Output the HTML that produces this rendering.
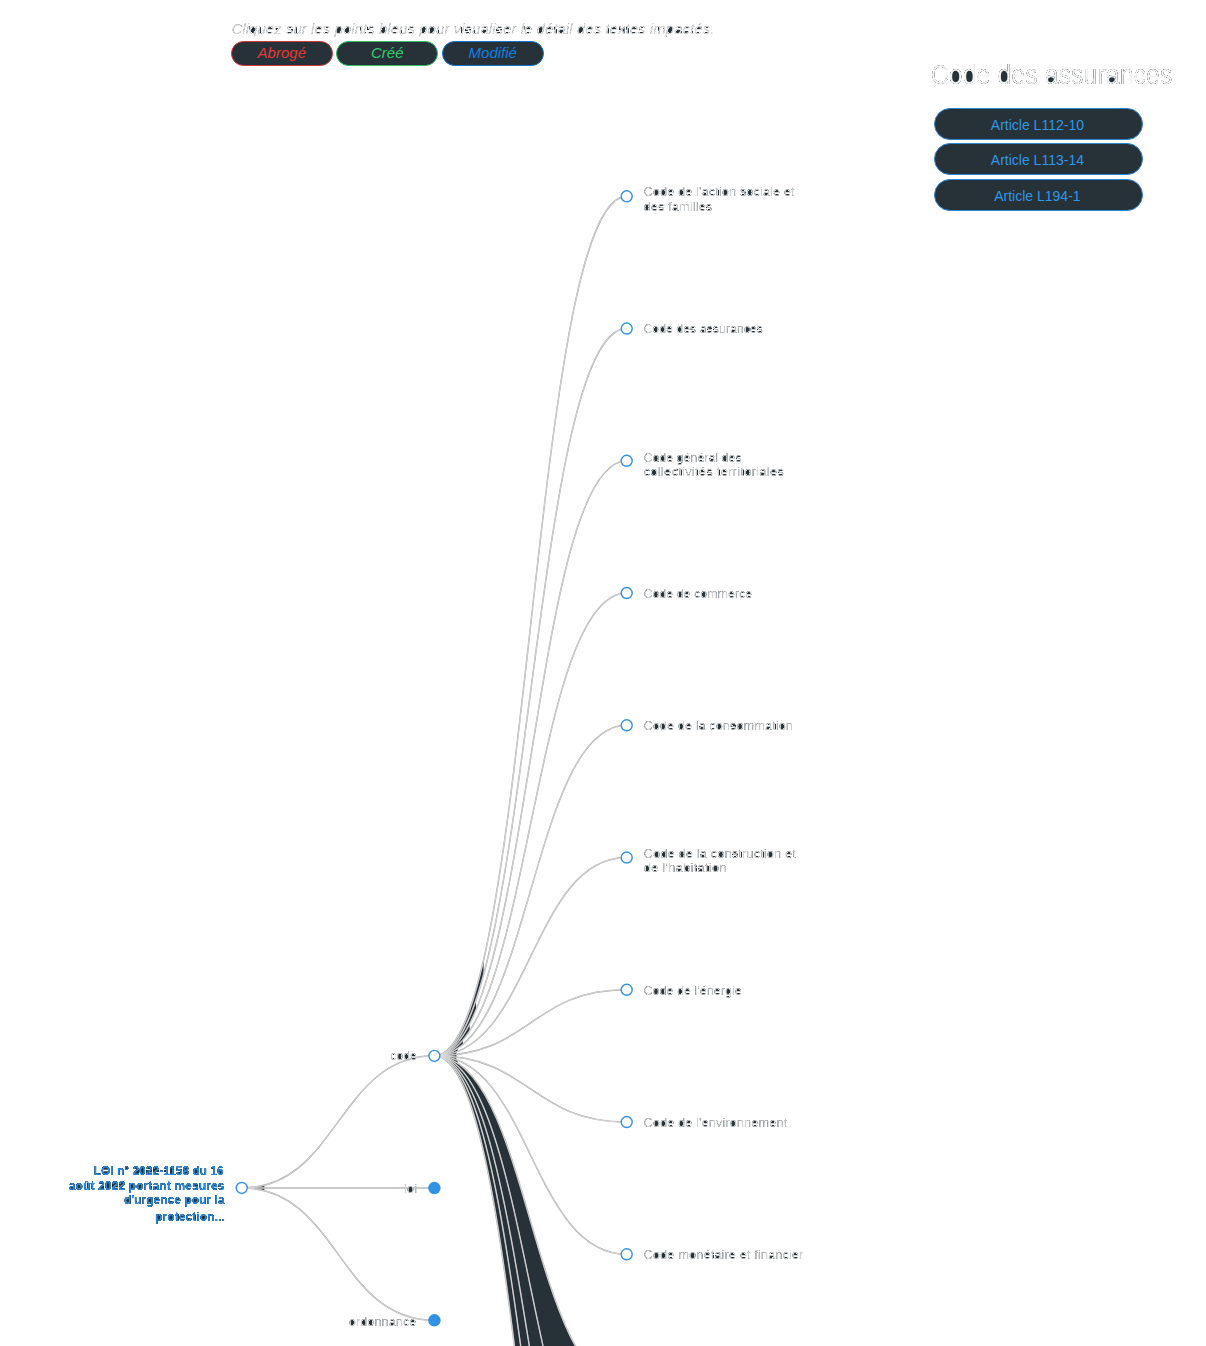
<!DOCTYPE html>
<html lang="fr">
<head>
<meta charset="utf-8">
<title>LOI n° 2022-1158</title>
<style>
html,body{margin:0;padding:0;background:#fff;}
body{width:1206px;height:1346px;position:relative;overflow:hidden;font-family:"Liberation Sans",sans-serif;}
svg.tree{position:absolute;left:0;top:0;}
svg text{font-family:"Liberation Sans",sans-serif;}
.lbl text{font-size:13px;fill:#d2d2d2;}
.rootlbl text{font-size:12px;font-weight:bold;fill:#2c8be0;}
.intro{position:absolute;left:0;top:0;}
.legend{position:absolute;left:231px;top:41px;height:25px;white-space:nowrap;font-size:0;}
.legend span{display:inline-block;box-sizing:border-box;width:101.6px;height:24.6px;border-radius:13px;background:#263238;border:1.3px solid;margin-right:3.9px;font-size:15px;font-style:italic;line-height:21px;text-align:center;vertical-align:top;}
.legend .a{color:#e5393a;border-color:#d9363b;}
.legend .c{color:#2fcf6c;border-color:#2dbe66;}
.legend .m{color:#0d7fe6;border-color:#0d74d8;}
.arts{position:absolute;left:934px;top:108.2px;width:208.8px;}
.arts div{box-sizing:border-box;height:32px;margin-bottom:3.3px;border-radius:16px;background:#263238;border:1.2px solid #2a86d6;color:#3296e6;font-size:14px;line-height:29.5px;padding:2px 2px 0 0;text-align:center;}
</style>
</head>
<body>
<svg class="tree" width="1206" height="1346" viewBox="0 0 1206 1346">
<defs>
<filter id="ff" x="-5%" y="-30%" width="110%" height="160%" color-interpolation-filters="sRGB">
  <feComponentTransfer in="SourceAlpha" result="m1"><feFuncA type="linear" slope="5" intercept="-2.5"/></feComponentTransfer>
  <feComponentTransfer in="SourceAlpha" result="m2"><feFuncA type="linear" slope="8" intercept="-2.4"/></feComponentTransfer>
  <feMorphology in="m2" operator="dilate" radius="2 0" result="hd"/>
  <feMorphology in="hd" operator="erode" radius="2 0" result="hc"/>
  <feMorphology in="m2" operator="dilate" radius="0 3" result="vd"/>
  <feMorphology in="vd" operator="erode" radius="0 3" result="vc"/>
  <feComposite in="hc" in2="vc" operator="in" result="hv"/>
  <feComposite in="hv" in2="m2" operator="out" result="ho"/>
  <feComposite in="ho" in2="m1" operator="over" result="mm"/>
  <feFlood flood-color="#263238" result="dk"/>
  <feComposite in="dk" in2="mm" operator="in" result="base"/>
  <feMerge><feMergeNode in="base"/><feMergeNode in="SourceGraphic"/></feMerge>
</filter>
<filter id="ff4" x="-5%" y="-30%" width="110%" height="160%" color-interpolation-filters="sRGB">
  <feComponentTransfer in="SourceAlpha" result="m1"><feFuncA type="linear" slope="5" intercept="-1.6"/></feComponentTransfer>
  <feComponentTransfer in="SourceAlpha" result="m2"><feFuncA type="linear" slope="8" intercept="-2.4"/></feComponentTransfer>
  <feMorphology in="m2" operator="dilate" radius="2 0" result="hd"/>
  <feMorphology in="hd" operator="erode" radius="2 0" result="hc"/>
  <feMorphology in="m2" operator="dilate" radius="0 3" result="vd"/>
  <feMorphology in="vd" operator="erode" radius="0 3" result="vc"/>
  <feComposite in="hc" in2="vc" operator="in" result="hv"/>
  <feComposite in="hv" in2="m2" operator="out" result="ho"/>
  <feComposite in="ho" in2="m1" operator="over" result="mm"/>
  <feFlood flood-color="#263238" result="dk"/>
  <feComposite in="dk" in2="mm" operator="in" result="base"/>
  <feMerge><feMergeNode in="base"/><feMergeNode in="SourceGraphic"/></feMerge>
</filter>
</defs>
<path d="M434.4,1055.85C530.55,1055.85 530.55,1386.5 626.7,1386.5L626.7,1915.48C530.55,1915.48 530.55,1055.85 434.4,1055.85Z" fill="#263238"/>
<g fill="#263238">
<path d="M434.4,1055.85L435.89,1055.78L437.36,1055.57L438.82,1055.23L440.26,1054.76L441.69,1054.15L443.1,1053.4L444.5,1052.53L445.89,1051.53L447.26,1050.4L448.61,1049.15L449.96,1047.77L451.28,1046.27L452.6,1044.65L453.9,1042.91L455.19,1041.05L456.46,1039.07L457.73,1036.97L458.98,1034.77L460.21,1032.45L461.44,1030.01L462.65,1027.47L463.85,1024.82L465.04,1022.06L466.21,1019.2L467.38,1016.23L468.53,1013.16L469.67,1009.99L470.8,1006.71L471.92,1003.34L473.03,999.88L474.13,996.31L475.21,992.66L476.29,988.91L477.36,985.07L478.41,981.13L479.46,977.11L480.5,973.01L481.53,968.82L482.54,964.54L483.55,960.18L483.55,974.9L482.54,978.59L481.53,982.21L480.5,985.75L479.46,989.23L478.41,992.63L477.36,995.96L476.29,999.21L475.21,1002.38L474.13,1005.47L473.03,1008.49L471.92,1011.42L470.8,1014.27L469.67,1017.04L468.53,1019.73L467.38,1022.33L466.21,1024.84L465.04,1027.26L463.85,1029.59L462.65,1031.84L461.44,1033.99L460.21,1036.05L458.98,1038.01L457.73,1039.88L456.46,1041.65L455.19,1043.32L453.9,1044.9L452.6,1046.37L451.28,1047.75L449.96,1049.02L448.61,1050.18L447.26,1051.24L445.89,1052.2L444.5,1053.04L443.1,1053.78L441.69,1054.41L440.26,1054.92L438.82,1055.33L437.36,1055.62L435.89,1055.79L434.4,1055.85Z"/>
<path d="M434.4,1055.85L435.62,1055.81L436.83,1055.69L438.03,1055.5L439.22,1055.23L440.4,1054.88L441.57,1054.46L442.73,1053.96L443.88,1053.38L445.02,1052.74L446.15,1052.02L447.27,1051.23L448.39,1050.37L449.49,1049.43L450.58,1048.43L451.67,1047.36L452.74,1046.22L453.81,1045.01L454.86,1043.73L455.91,1042.39L456.95,1040.98L457.98,1039.5L459.01,1037.96L460.02,1036.36L461.02,1034.69L462.02,1032.96L463.01,1031.17L463.99,1029.32L464.96,1027.4L465.93,1025.43L466.89,1023.4L467.84,1021.3L468.78,1019.15L469.71,1016.94L470.64,1014.68L471.56,1012.36L472.47,1009.98L473.37,1007.55L474.27,1005.07L475.16,1002.53L476.05,999.94L476.05,1010.11L475.16,1012.23L474.27,1014.3L473.37,1016.33L472.47,1018.32L471.56,1020.27L470.64,1022.17L469.71,1024.02L468.78,1025.83L467.84,1027.58L466.89,1029.3L465.93,1030.96L464.96,1032.58L463.99,1034.14L463.01,1035.66L462.02,1037.12L461.02,1038.54L460.02,1039.9L459.01,1041.22L457.98,1042.48L456.95,1043.68L455.91,1044.84L454.86,1045.94L453.81,1046.98L452.74,1047.97L451.67,1048.9L450.58,1049.78L449.49,1050.6L448.39,1051.36L447.27,1052.07L446.15,1052.72L445.02,1053.3L443.88,1053.83L442.73,1054.3L441.57,1054.71L440.4,1055.06L439.22,1055.34L438.03,1055.56L436.83,1055.72L435.62,1055.82L434.4,1055.85Z"/>
<path d="M434.4,1055.85L435.41,1055.83L436.41,1055.76L437.4,1055.65L438.38,1055.5L439.36,1055.31L440.33,1055.07L441.3,1054.8L442.25,1054.48L443.21,1054.12L444.15,1053.71L445.09,1053.27L446.02,1052.79L446.95,1052.27L447.86,1051.7L448.78,1051.1L449.68,1050.46L450.58,1049.78L451.48,1049.06L452.36,1048.31L453.24,1047.51L454.12,1046.68L454.99,1045.81L455.85,1044.9L456.71,1043.96L457.56,1042.98L458.41,1041.96L459.24,1040.91L460.08,1039.83L460.91,1038.7L461.73,1037.55L462.55,1036.35L463.36,1035.13L464.16,1033.87L464.96,1032.58L465.76,1031.25L466.55,1029.89L467.33,1028.5L468.11,1027.07L468.89,1025.61L469.66,1024.13L469.66,1031.18L468.89,1032.33L468.11,1033.47L467.33,1034.58L466.55,1035.66L465.76,1036.72L464.96,1037.75L464.16,1038.75L463.36,1039.73L462.55,1040.69L461.73,1041.61L460.91,1042.51L460.08,1043.39L459.24,1044.23L458.41,1045.05L457.56,1045.84L456.71,1046.6L455.85,1047.34L454.99,1048.04L454.12,1048.72L453.24,1049.36L452.36,1049.98L451.48,1050.57L450.58,1051.13L449.68,1051.66L448.78,1052.16L447.86,1052.63L446.95,1053.06L446.02,1053.47L445.09,1053.84L444.15,1054.19L443.21,1054.5L442.25,1054.78L441.3,1055.03L440.33,1055.25L439.36,1055.43L438.38,1055.58L437.4,1055.7L436.41,1055.78L435.41,1055.83L434.4,1055.85Z"/>
<path d="M434.4,1055.85L435.19,1055.84L435.98,1055.81L436.76,1055.76L437.54,1055.68L438.31,1055.59L439.08,1055.48L439.85,1055.34L440.61,1055.19L441.37,1055.01L442.12,1054.82L442.87,1054.61L443.61,1054.37L444.35,1054.12L445.09,1053.84L445.82,1053.55L446.55,1053.24L447.27,1052.91L447.99,1052.56L448.71,1052.19L449.42,1051.8L450.13,1051.4L450.84,1050.97L451.54,1050.53L452.24,1050.07L452.93,1049.59L453.62,1049.09L454.31,1048.57L454.99,1048.04L455.67,1047.49L456.34,1046.92L457.01,1046.33L457.68,1045.73L458.35,1045.11L459.01,1044.47L459.66,1043.81L460.32,1043.14L460.97,1042.45L461.61,1041.74L462.26,1041.02L462.9,1040.28L462.9,1044.73L462.26,1045.26L461.61,1045.77L460.97,1046.28L460.32,1046.77L459.66,1047.25L459.01,1047.72L458.35,1048.18L457.68,1048.62L457.01,1049.05L456.34,1049.47L455.67,1049.88L454.99,1050.27L454.31,1050.65L453.62,1051.02L452.93,1051.38L452.24,1051.72L451.54,1052.05L450.84,1052.37L450.13,1052.67L449.42,1052.96L448.71,1053.24L447.99,1053.5L447.27,1053.75L446.55,1053.99L445.82,1054.21L445.09,1054.42L444.35,1054.61L443.61,1054.79L442.87,1054.96L442.12,1055.11L441.37,1055.25L440.61,1055.38L439.85,1055.49L439.08,1055.58L438.31,1055.66L437.54,1055.73L436.76,1055.78L435.98,1055.82L435.19,1055.84L434.4,1055.85Z"/>
<path d="M434.4,1055.85L435.03,1055.85L435.66,1055.83L436.28,1055.81L436.9,1055.77L437.52,1055.73L438.14,1055.68L438.75,1055.62L439.36,1055.55L439.97,1055.47L440.57,1055.38L441.18,1055.29L441.78,1055.18L442.37,1055.06L442.97,1054.94L443.56,1054.81L444.15,1054.66L444.74,1054.51L445.32,1054.35L445.9,1054.18L446.48,1054.01L447.06,1053.82L447.64,1053.63L448.21,1053.42L448.78,1053.21L449.34,1052.99L449.91,1052.76L450.47,1052.53L451.03,1052.28L451.59,1052.03L452.14,1051.77L452.69,1051.5L453.24,1051.22L453.79,1050.93L454.34,1050.64L454.88,1050.33L455.42,1050.02L455.96,1049.7L456.49,1049.38L457.03,1049.04L457.56,1048.7L457.56,1051.56L457.03,1051.77L456.49,1051.97L455.96,1052.16L455.42,1052.35L454.88,1052.54L454.34,1052.72L453.79,1052.9L453.24,1053.07L452.69,1053.24L452.14,1053.4L451.59,1053.56L451.03,1053.71L450.47,1053.86L449.91,1054L449.34,1054.14L448.78,1054.27L448.21,1054.39L447.64,1054.52L447.06,1054.63L446.48,1054.74L445.9,1054.85L445.32,1054.95L444.74,1055.05L444.15,1055.14L443.56,1055.22L442.97,1055.3L442.37,1055.38L441.78,1055.45L441.18,1055.51L440.57,1055.57L439.97,1055.62L439.36,1055.67L438.75,1055.71L438.14,1055.75L437.52,1055.78L436.9,1055.8L436.28,1055.82L435.66,1055.84L435.03,1055.85L434.4,1055.85Z"/>
<path d="M434.4,1055.85L434.99,1055.85L435.58,1055.84L436.17,1055.83L436.76,1055.81L437.34,1055.79L437.93,1055.76L438.5,1055.73L439.08,1055.69L439.66,1055.65L440.23,1055.6L440.8,1055.55L441.37,1055.49L441.93,1055.43L442.49,1055.36L443.05,1055.29L443.61,1055.22L444.17,1055.14L444.72,1055.05L445.27,1054.96L445.82,1054.87L446.37,1054.77L446.91,1054.66L447.45,1054.55L447.99,1054.44L448.53,1054.32L449.07,1054.2L449.6,1054.07L450.13,1053.94L450.66,1053.81L451.19,1053.67L451.71,1053.52L452.24,1053.37L452.76,1053.22L453.28,1053.06L453.79,1052.9L454.31,1052.73L454.82,1052.56L455.33,1052.39L455.84,1052.21L456.34,1052.02L456.34,1054.57L455.84,1054.64L455.33,1054.7L454.82,1054.75L454.31,1054.81L453.79,1054.87L453.28,1054.92L452.76,1054.97L452.24,1055.02L451.71,1055.07L451.19,1055.12L450.66,1055.17L450.13,1055.21L449.6,1055.26L449.07,1055.3L448.53,1055.34L447.99,1055.38L447.45,1055.42L446.91,1055.45L446.37,1055.49L445.82,1055.52L445.27,1055.55L444.72,1055.58L444.17,1055.61L443.61,1055.64L443.05,1055.66L442.49,1055.69L441.93,1055.71L441.37,1055.73L440.8,1055.75L440.23,1055.77L439.66,1055.78L439.08,1055.8L438.5,1055.81L437.93,1055.82L437.34,1055.83L436.76,1055.84L436.17,1055.84L435.58,1055.85L434.99,1055.85L434.4,1055.85Z"/>
<path d="M434.4,1055.85L434.99,1055.85L435.58,1055.85L436.17,1055.84L436.76,1055.84L437.34,1055.83L437.93,1055.82L438.5,1055.81L439.08,1055.8L439.66,1055.78L440.23,1055.77L440.8,1055.75L441.37,1055.73L441.93,1055.71L442.49,1055.69L443.05,1055.66L443.61,1055.64L444.17,1055.61L444.72,1055.58L445.27,1055.55L445.82,1055.52L446.37,1055.49L446.91,1055.45L447.45,1055.42L447.99,1055.38L448.53,1055.34L449.07,1055.3L449.6,1055.26L450.13,1055.21L450.66,1055.17L451.19,1055.12L451.71,1055.07L452.24,1055.02L452.76,1054.97L453.28,1054.92L453.79,1054.87L454.31,1054.81L454.82,1054.75L455.33,1054.7L455.84,1054.64L456.34,1054.57L456.34,1057.13L455.84,1057.07L455.33,1057.01L454.82,1056.95L454.31,1056.89L453.79,1056.83L453.28,1056.78L452.76,1056.73L452.24,1056.68L451.71,1056.63L451.19,1056.58L450.66,1056.53L450.13,1056.49L449.6,1056.44L449.07,1056.4L448.53,1056.36L447.99,1056.32L447.45,1056.28L446.91,1056.25L446.37,1056.21L445.82,1056.18L445.27,1056.15L444.72,1056.12L444.17,1056.09L443.61,1056.06L443.05,1056.04L442.49,1056.01L441.93,1055.99L441.37,1055.97L440.8,1055.95L440.23,1055.93L439.66,1055.92L439.08,1055.9L438.5,1055.89L437.93,1055.88L437.34,1055.87L436.76,1055.86L436.17,1055.86L435.58,1055.85L434.99,1055.85L434.4,1055.85Z"/>
<path d="M434.4,1055.85L434.99,1055.85L435.58,1055.85L436.17,1055.86L436.76,1055.86L437.34,1055.87L437.93,1055.88L438.5,1055.89L439.08,1055.9L439.66,1055.92L440.23,1055.93L440.8,1055.95L441.37,1055.97L441.93,1055.99L442.49,1056.01L443.05,1056.04L443.61,1056.06L444.17,1056.09L444.72,1056.12L445.27,1056.15L445.82,1056.18L446.37,1056.21L446.91,1056.25L447.45,1056.28L447.99,1056.32L448.53,1056.36L449.07,1056.4L449.6,1056.44L450.13,1056.49L450.66,1056.53L451.19,1056.58L451.71,1056.63L452.24,1056.68L452.76,1056.73L453.28,1056.78L453.79,1056.83L454.31,1056.89L454.82,1056.95L455.33,1057.01L455.84,1057.07L456.34,1057.13L456.34,1059.68L455.84,1059.49L455.33,1059.32L454.82,1059.14L454.31,1058.97L453.79,1058.8L453.28,1058.64L452.76,1058.48L452.24,1058.33L451.71,1058.18L451.19,1058.03L450.66,1057.89L450.13,1057.76L449.6,1057.63L449.07,1057.5L448.53,1057.38L447.99,1057.26L447.45,1057.15L446.91,1057.04L446.37,1056.93L445.82,1056.83L445.27,1056.74L444.72,1056.65L444.17,1056.56L443.61,1056.48L443.05,1056.41L442.49,1056.34L441.93,1056.27L441.37,1056.21L440.8,1056.15L440.23,1056.1L439.66,1056.05L439.08,1056.01L438.5,1055.97L437.93,1055.94L437.34,1055.91L436.76,1055.89L436.17,1055.87L435.58,1055.86L434.99,1055.85L434.4,1055.85Z"/>
<path d="M434.4,1055.85L435.03,1055.85L435.66,1055.86L436.28,1055.88L436.9,1055.9L437.52,1055.92L438.14,1055.95L438.75,1055.99L439.36,1056.03L439.97,1056.08L440.57,1056.13L441.18,1056.19L441.78,1056.25L442.37,1056.32L442.97,1056.4L443.56,1056.48L444.15,1056.56L444.74,1056.65L445.32,1056.75L445.9,1056.85L446.48,1056.96L447.06,1057.07L447.64,1057.18L448.21,1057.31L448.78,1057.43L449.34,1057.57L449.91,1057.7L450.47,1057.84L451.03,1057.99L451.59,1058.14L452.14,1058.3L452.69,1058.46L453.24,1058.63L453.79,1058.8L454.34,1058.98L454.88,1059.16L455.42,1059.35L455.96,1059.54L456.49,1059.73L457.03,1059.94L457.56,1060.14L457.56,1063L457.03,1062.66L456.49,1062.32L455.96,1062L455.42,1061.68L454.88,1061.37L454.34,1061.07L453.79,1060.77L453.24,1060.48L452.69,1060.21L452.14,1059.94L451.59,1059.67L451.03,1059.42L450.47,1059.17L449.91,1058.94L449.34,1058.71L448.78,1058.49L448.21,1058.28L447.64,1058.07L447.06,1057.88L446.48,1057.69L445.9,1057.52L445.32,1057.35L444.74,1057.19L444.15,1057.04L443.56,1056.89L442.97,1056.76L442.37,1056.64L441.78,1056.52L441.18,1056.42L440.57,1056.32L439.97,1056.23L439.36,1056.15L438.75,1056.08L438.14,1056.02L437.52,1055.97L436.9,1055.93L436.28,1055.89L435.66,1055.87L435.03,1055.85L434.4,1055.85Z"/>
<path d="M241.76,1187.95L242.37,1187.95L242.98,1187.94L243.59,1187.93L244.2,1187.92L244.8,1187.91L245.4,1187.89L245.99,1187.86L246.59,1187.84L247.18,1187.81L247.77,1187.77L248.36,1187.74L248.94,1187.7L249.53,1187.65L250.11,1187.61L250.68,1187.56L251.26,1187.5L251.83,1187.45L252.4,1187.38L252.97,1187.32L253.53,1187.25L254.1,1187.18L254.66,1187.11L255.22,1187.03L255.77,1186.95L256.32,1186.87L256.88,1186.78L257.42,1186.7L257.97,1186.6L258.51,1186.51L259.06,1186.41L259.6,1186.31L260.13,1186.2L260.67,1186.09L261.2,1185.98L261.73,1185.87L262.26,1185.75L262.79,1185.63L263.31,1185.51L263.83,1185.38L264.35,1185.25L264.35,1187.95L263.83,1187.95L263.31,1187.95L262.79,1187.95L262.26,1187.95L261.73,1187.95L261.2,1187.95L260.67,1187.95L260.13,1187.95L259.6,1187.95L259.06,1187.95L258.51,1187.95L257.97,1187.95L257.42,1187.95L256.88,1187.95L256.32,1187.95L255.77,1187.95L255.22,1187.95L254.66,1187.95L254.1,1187.95L253.53,1187.95L252.97,1187.95L252.4,1187.95L251.83,1187.95L251.26,1187.95L250.68,1187.95L250.11,1187.95L249.53,1187.95L248.94,1187.95L248.36,1187.95L247.77,1187.95L247.18,1187.95L246.59,1187.95L245.99,1187.95L245.4,1187.95L244.8,1187.95L244.2,1187.95L243.59,1187.95L242.98,1187.95L242.37,1187.95L241.76,1187.95Z"/>
<path d="M241.76,1187.95L242.37,1187.95L242.98,1187.95L243.59,1187.95L244.2,1187.95L244.8,1187.95L245.4,1187.95L245.99,1187.95L246.59,1187.95L247.18,1187.95L247.77,1187.95L248.36,1187.95L248.94,1187.95L249.53,1187.95L250.11,1187.95L250.68,1187.95L251.26,1187.95L251.83,1187.95L252.4,1187.95L252.97,1187.95L253.53,1187.95L254.1,1187.95L254.66,1187.95L255.22,1187.95L255.77,1187.95L256.32,1187.95L256.88,1187.95L257.42,1187.95L257.97,1187.95L258.51,1187.95L259.06,1187.95L259.6,1187.95L260.13,1187.95L260.67,1187.95L261.2,1187.95L261.73,1187.95L262.26,1187.95L262.79,1187.95L263.31,1187.95L263.83,1187.95L264.35,1187.95L264.35,1190.66L263.83,1190.53L263.31,1190.4L262.79,1190.28L262.26,1190.16L261.73,1190.04L261.2,1189.92L260.67,1189.81L260.13,1189.7L259.6,1189.6L259.06,1189.5L258.51,1189.4L257.97,1189.3L257.42,1189.21L256.88,1189.12L256.32,1189.03L255.77,1188.95L255.22,1188.87L254.66,1188.79L254.1,1188.72L253.53,1188.65L252.97,1188.58L252.4,1188.52L251.83,1188.46L251.26,1188.4L250.68,1188.34L250.11,1188.29L249.53,1188.25L248.94,1188.2L248.36,1188.16L247.77,1188.13L247.18,1188.09L246.59,1188.06L245.99,1188.04L245.4,1188.01L244.8,1187.99L244.2,1187.98L243.59,1187.97L242.98,1187.96L242.37,1187.95L241.76,1187.95Z"/>
</g>
<g fill="none" stroke="#a9a9a9" stroke-width="1.5">
<path id="l0" d="M241.76,1187.95C338.08,1187.95 338.08,1055.85 434.4,1055.85"/>
<path id="l1" d="M241.76,1187.95C338.08,1187.95 338.08,1188.05 434.4,1188.05"/>
<path id="l2" d="M241.76,1187.95C338.08,1187.95 338.08,1320.3 434.4,1320.3"/>
<path id="l3" d="M434.4,1055.85C530.55,1055.85 530.55,196.3 626.7,196.3"/>
<path id="l4" d="M434.4,1055.85C530.55,1055.85 530.55,328.55 626.7,328.55"/>
<path id="l5" d="M434.4,1055.85C530.55,1055.85 530.55,460.79 626.7,460.79"/>
<path id="l6" d="M434.4,1055.85C530.55,1055.85 530.55,593.04 626.7,593.04"/>
<path id="l7" d="M434.4,1055.85C530.55,1055.85 530.55,725.28 626.7,725.28"/>
<path id="l8" d="M434.4,1055.85C530.55,1055.85 530.55,857.53 626.7,857.53"/>
<path id="l9" d="M434.4,1055.85C530.55,1055.85 530.55,989.77 626.7,989.77"/>
<path id="l10" d="M434.4,1055.85C530.55,1055.85 530.55,1122.02 626.7,1122.02"/>
<path id="l11" d="M434.4,1055.85C530.55,1055.85 530.55,1254.26 626.7,1254.26"/>
<path id="l12" d="M434.4,1055.85C530.55,1055.85 530.55,1386.5 626.7,1386.5"/>
<path id="l13" d="M434.4,1055.85C530.55,1055.85 530.55,1518.75 626.7,1518.75"/>
<path id="l14" d="M434.4,1055.85C530.55,1055.85 530.55,1651 626.7,1651"/>
<path id="l15" d="M434.4,1055.85C530.55,1055.85 530.55,1783.24 626.7,1783.24"/>
<path id="l16" d="M434.4,1055.85C530.55,1055.85 530.55,1915.48 626.7,1915.48"/>
</g>
<g fill="none" stroke="#dddddd" stroke-width="0.8">
<use href="#l0"/>
<use href="#l1"/>
<use href="#l2"/>
<use href="#l3"/>
<use href="#l4"/>
<use href="#l5"/>
<use href="#l6"/>
<use href="#l7"/>
<use href="#l8"/>
<use href="#l9"/>
<use href="#l10"/>
<use href="#l11"/>
<use href="#l12"/>
<use href="#l13"/>
<use href="#l14"/>
<use href="#l15"/>
<use href="#l16"/>
</g>
<g fill="#fff" stroke="#3192e4" stroke-width="1.4">
<circle cx="241.76" cy="1187.95" r="5.5"/>
<circle cx="434.4" cy="1055.85" r="5.5"/>
<circle cx="626.7" cy="196.3" r="5.5"/>
<circle cx="626.7" cy="328.55" r="5.5"/>
<circle cx="626.7" cy="460.79" r="5.5"/>
<circle cx="626.7" cy="593.04" r="5.5"/>
<circle cx="626.7" cy="725.28" r="5.5"/>
<circle cx="626.7" cy="857.53" r="5.5"/>
<circle cx="626.7" cy="989.77" r="5.5"/>
<circle cx="626.7" cy="1122.02" r="5.5"/>
<circle cx="626.7" cy="1254.26" r="5.5"/>
</g>
<g fill="#3192e4" stroke="#3192e4" stroke-width="1.5">
<circle cx="434.4" cy="1188.05" r="5.5"/>
<circle cx="434.4" cy="1320.3" r="5.5"/>
</g>
<g class="lbl" filter="url(#ff)">
<text x="643.4" y="196.3" textLength="151.2" lengthAdjust="spacingAndGlyphs">Code de l'action sociale et</text>
<text x="643.4" y="210.9" textLength="69" lengthAdjust="spacingAndGlyphs">des familles</text>
<text x="643.4" y="333.44" textLength="119.5" lengthAdjust="spacingAndGlyphs">Code des assurances</text>
<text x="643.4" y="461.69" textLength="98.3" lengthAdjust="spacingAndGlyphs">Code général des</text>
<text x="643.4" y="475.79" textLength="140.7" lengthAdjust="spacingAndGlyphs">collectivités territoriales</text>
<text x="643.4" y="597.94" textLength="108.8" lengthAdjust="spacingAndGlyphs">Code de commerce</text>
<text x="643.4" y="730.18" textLength="149.6" lengthAdjust="spacingAndGlyphs">Code de la consommation</text>
<text x="643.4" y="858.43" textLength="152.6" lengthAdjust="spacingAndGlyphs">Code de la construction et</text>
<text x="643.4" y="871.53" textLength="83.4" lengthAdjust="spacingAndGlyphs">de l'habitation</text>
<text x="643.4" y="994.67" textLength="98.3" lengthAdjust="spacingAndGlyphs">Code de l'énergie</text>
<text x="643.4" y="1126.92" textLength="144" lengthAdjust="spacingAndGlyphs">Code de l'environnement</text>
<text x="643.4" y="1259.16" textLength="160" lengthAdjust="spacingAndGlyphs">Code monétaire et financier</text>
<text x="416.9" y="1060.3" text-anchor="end" textLength="26.6" lengthAdjust="spacingAndGlyphs">code</text>
<text x="417.3" y="1192.6" text-anchor="end" textLength="13.4" lengthAdjust="spacingAndGlyphs">loi</text>
<text x="416.5" y="1325.7" text-anchor="end" textLength="67.7" lengthAdjust="spacingAndGlyphs">ordonnance</text>
</g>
<g class="rootlbl" filter="url(#ff4)" text-anchor="end">
<text x="223.8" y="1175.4" textLength="130.1" lengthAdjust="spacingAndGlyphs">LOI n° 2022-1158 du 16</text>
<text x="224.6" y="1189.7" textLength="155.9" lengthAdjust="spacingAndGlyphs">août 2022 portant mesures</text>
<text x="224.6" y="1204.3" textLength="100.7" lengthAdjust="spacingAndGlyphs">d'urgence pour la</text>
<text x="224.9" y="1221.4" textLength="69.8" lengthAdjust="spacingAndGlyphs">protection...</text>
</g>
</svg>
<svg class="tree" width="1206" height="120" viewBox="0 0 1206 120">
<g filter="url(#ff3)">
<text x="231.4" y="34" font-size="14.5" font-style="italic" fill="#dbdbdb" textLength="483" lengthAdjust="spacingAndGlyphs">Cliquez sur les points bleus pour visualiser le détail des textes impactés.</text>
</g>
<g fill="#263238"><ellipse cx="955.6" cy="76.5" rx="4" ry="6"/><ellipse cx="969.5" cy="76.5" rx="3.9" ry="6"/><ellipse cx="1004" cy="76.5" rx="3.7" ry="6"/><ellipse cx="1050.8" cy="79.7" rx="3" ry="2.4"/><ellipse cx="1111.8" cy="79.7" rx="3" ry="2.4"/></g>
<g filter="url(#ff2)">
<text x="930.8" y="84.4" font-size="27" fill="#f4f4f4" textLength="241.6" lengthAdjust="spacingAndGlyphs">Code des assurances</text>
</g>
<defs>
<filter id="ff3" x="-5%" y="-30%" width="110%" height="160%" color-interpolation-filters="sRGB">
  <feComponentTransfer in="SourceAlpha" result="m1"><feFuncA type="linear" slope="5" intercept="-3"/></feComponentTransfer>
  <feComponentTransfer in="SourceAlpha" result="m2"><feFuncA type="linear" slope="8" intercept="-2.4"/></feComponentTransfer>
  <feMorphology in="m2" operator="dilate" radius="2 0" result="hd"/>
  <feMorphology in="hd" operator="erode" radius="2 0" result="hc"/>
  <feMorphology in="m2" operator="dilate" radius="0 3" result="vd"/>
  <feMorphology in="vd" operator="erode" radius="0 3" result="vc"/>
  <feComposite in="hc" in2="vc" operator="in" result="hv"/>
  <feComposite in="hv" in2="m2" operator="out" result="ho"/>
  <feComposite in="ho" in2="m1" operator="over" result="mm"/>
  <feFlood flood-color="#263238" result="dk"/>
  <feComposite in="dk" in2="mm" operator="in" result="base"/>
  <feMerge><feMergeNode in="base"/><feMergeNode in="SourceGraphic"/></feMerge>
</filter>
<filter id="ff2" x="-5%" y="-30%" width="110%" height="160%" color-interpolation-filters="sRGB">
  <feComponentTransfer in="SourceAlpha" result="m1"><feFuncA type="linear" slope="5" intercept="-1.9"/></feComponentTransfer>
  <feFlood flood-color="#263238" result="dk"/>
  <feComposite in="dk" in2="m1" operator="in" result="base"/>
  <feMerge><feMergeNode in="base"/><feMergeNode in="SourceGraphic"/></feMerge>
</filter>
</defs>
</svg>
<div class="legend"><span class="a">Abrogé</span><span class="c">Créé</span><span class="m">Modifié</span></div>
<div class="arts"><div>Article L112-10</div><div>Article L113-14</div><div>Article L194-1</div></div>
</body>
</html>
